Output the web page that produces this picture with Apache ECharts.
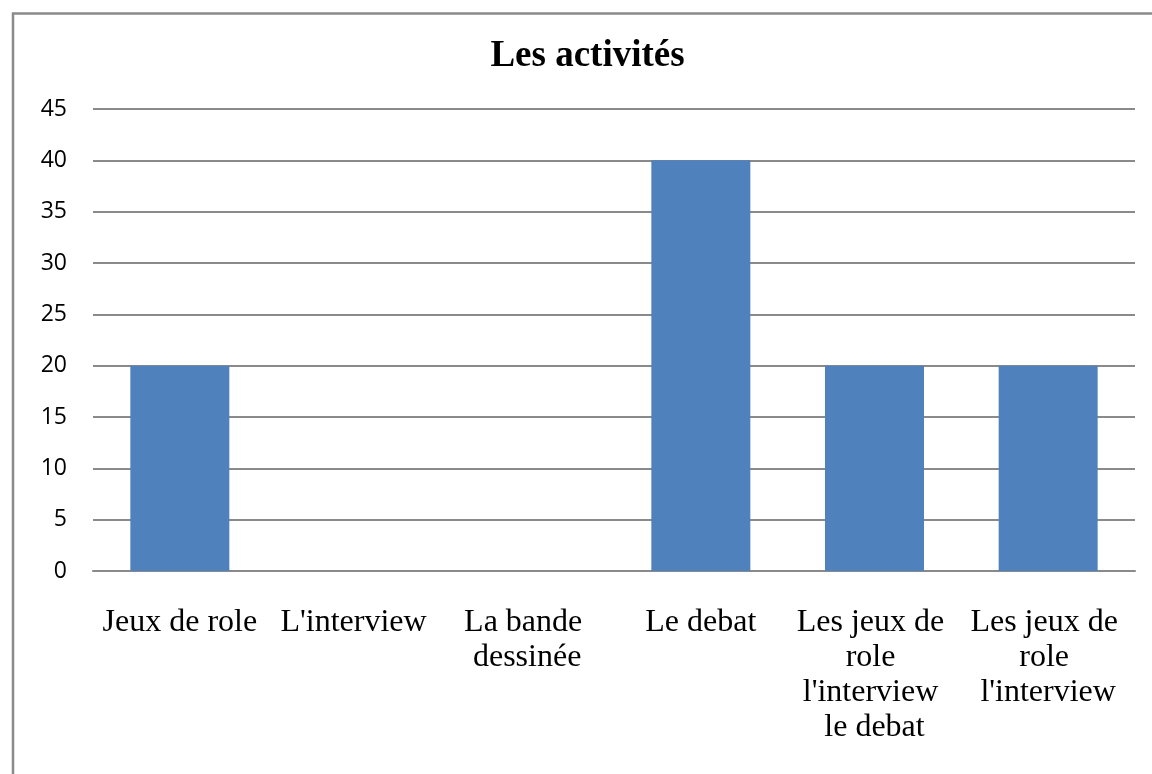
<!DOCTYPE html>
<html>
<head>
<meta charset="utf-8">
<script src="https://cdn.jsdelivr.net/npm/echarts@6/dist/echarts.min.js"></script>
<style>
  html, body { margin: 0; padding: 0; background: #fff; }
  #chart { width: 1152px; height: 774px; }
</style>
</head>
<body>
<div id="chart"></div>
<script>
// données
const chartTitle = 'Les activités';
const categories = [
  'Jeux de role',
  "L'interview",
  'La bande dessinée',
  'Le debat',
  "Les jeux de role l'interview le debat",
  "Les jeux de role l'interview"
];
const values = [20, 0, 0, 40, 20, 20];
const yTicks = [0, 5, 10, 15, 20, 25, 30, 35, 40, 45];

const myChart = echarts.init(document.getElementById('chart'));

const option = {
  backgroundColor: '#ffffff',
  animation: false,
  graphic: [
    {
      // cadre du graphique (bord droit et bas hors image)
      type: 'rect',
      shape: { x: 13, y: 13.5, width: 1200, height: 800 },
      style: { fill: 'none', stroke: '#8a8a8a', lineWidth: 2.5 },
      silent: true
    },
    {
      type: 'text',
      x: 587.5,
      y: 56,
      style: {
        text: chartTitle,
        fill: '#000',
        font: 'bold 37px "Liberation Serif", "Times New Roman", serif',
        align: 'center',
        verticalAlign: 'middle'
      }
    }
  ],
  grid: {
    left: 93,
    right: 17,
    top: 109,
    bottom: 203,
    containLabel: false
  },
  xAxis: {
    type: 'category',
    data: categories,
    axisTick: { show: false },
    axisLine: { lineStyle: { color: '#8a8a8a', width: 2 } },
    axisLabel: {
      interval: 0,
      margin: 34,
      width: 158,
      overflow: 'break',
      align: 'center',
      color: '#000',
      fontFamily: '"Liberation Serif", "Times New Roman", serif',
      fontSize: 32,
      lineHeight: 35
    }
  },
  yAxis: {
    type: 'value',
    min: yTicks[0],
    max: yTicks[yTicks.length - 1],
    interval: yTicks[1] - yTicks[0],
    axisLine: { show: false },
    axisTick: { show: false },
    splitLine: { lineStyle: { color: '#8a8a8a', width: 2 } },
    axisLabel: {
      margin: 26,
      color: '#000',
      fontFamily: '"Open Sans", sans-serif',
      fontSize: 23
    }
  },
  series: [
    {
      type: 'bar',
      data: values,
      barCategoryGap: '43%',
      itemStyle: { color: '#4f81bd' }
    }
  ]
};

option && myChart.setOption(option);
</script>
</body>
</html>
